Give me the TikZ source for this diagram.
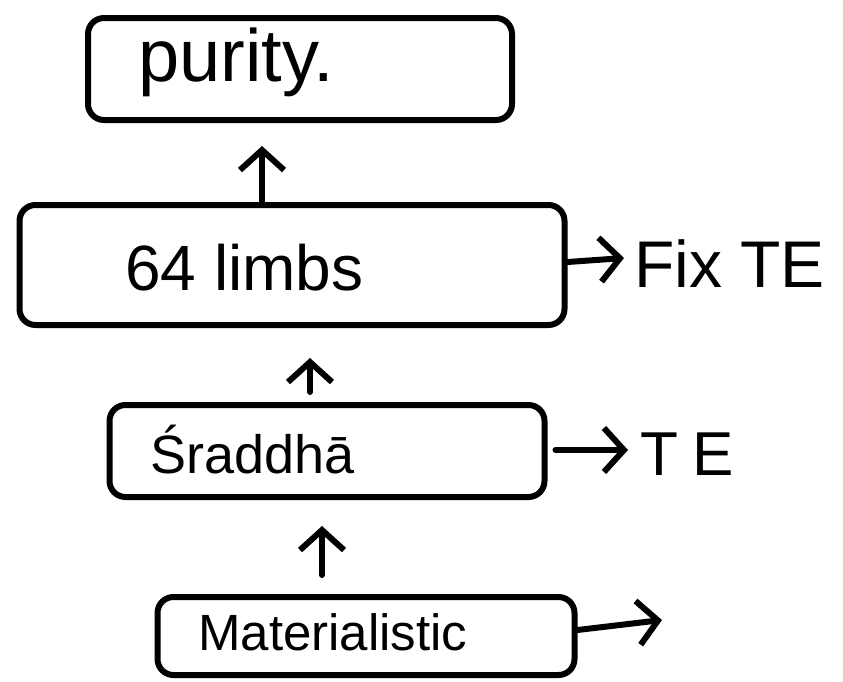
\documentclass[tikz,border=0pt]{standalone}
\usepackage{fontspec}
\setmainfont{Liberation Sans}
\usetikzlibrary{arrows.meta, positioning}

\begin{document}
\begin{tikzpicture}[x=1pt, y=-1pt,
  box/.style={draw, line width=6pt, rounded corners=16pt, inner sep=0pt},
  word/.style={inner sep=0pt, anchor=west},
  arr/.style={line width=6pt, line cap=round, -{Straight Barb[length=20pt, width=44pt, line width=6pt]}}]

  \useasboundingbox (0,0) rectangle (843,681);

  % boxes, top to bottom
  \node[box, minimum width=424pt, minimum height=102pt] (purity) at (300,69) {};
  \node[box, minimum width=545pt, minimum height=120pt] (limbs) at (292,265) {};
  \node[box, minimum width=435pt, minimum height=92pt] (sraddha) at (327,451) {};
  \node[box, minimum width=417pt, minimum height=78pt] (material) at (366,636) {};

  \node[word, font=\fontsize{74}{80}\selectfont] (puritytext) at (138,62) {purity.};
  \node[word, font=\fontsize{64}{70}\selectfont] (limbstext) at (125,268) {64 limbs};
  \node[word, font=\fontsize{54}{60}\selectfont] (sraddhatext) at (150,450) {Śraddhā};
  \node[word, font=\fontsize{51}{56}\selectfont] (materialtext) at (198,632) {Materialistic};

  % arrows going up
  \coordinate (up1) at (262,146);
  \coordinate (up2) at (310,358);
  \coordinate (up3) at (322,526);
  \draw[arr] (limbs.north -| up1) -- (up1);
  \draw[arr] ([yshift=10pt]sraddha.north -| up2) -- (up2);
  \draw[arr] ([yshift=19pt]material.north -| up3) -- (up3);

  % arrows going right
  \coordinate (out1) at (624,258);
  \coordinate (out2) at (628,450);
  \coordinate (out3) at (662,620);
  \draw[arr] (limbs.east |- 0,262) -- (out1);
  \draw[arr] ([xshift=8pt]sraddha.east |- out2) -- (out2);
  \draw[arr] (material.east |- 0,630) -- (out3);

  \node[word, font=\fontsize{66}{72}\selectfont, right=10pt of out1, yshift=-6pt] (fixte) {Fix TE};
  \node[word, font=\fontsize{62}{68}\selectfont, right=12pt of out2, yshift=-4pt] (te) {T\kern14pt E};
\end{tikzpicture}
\end{document}
